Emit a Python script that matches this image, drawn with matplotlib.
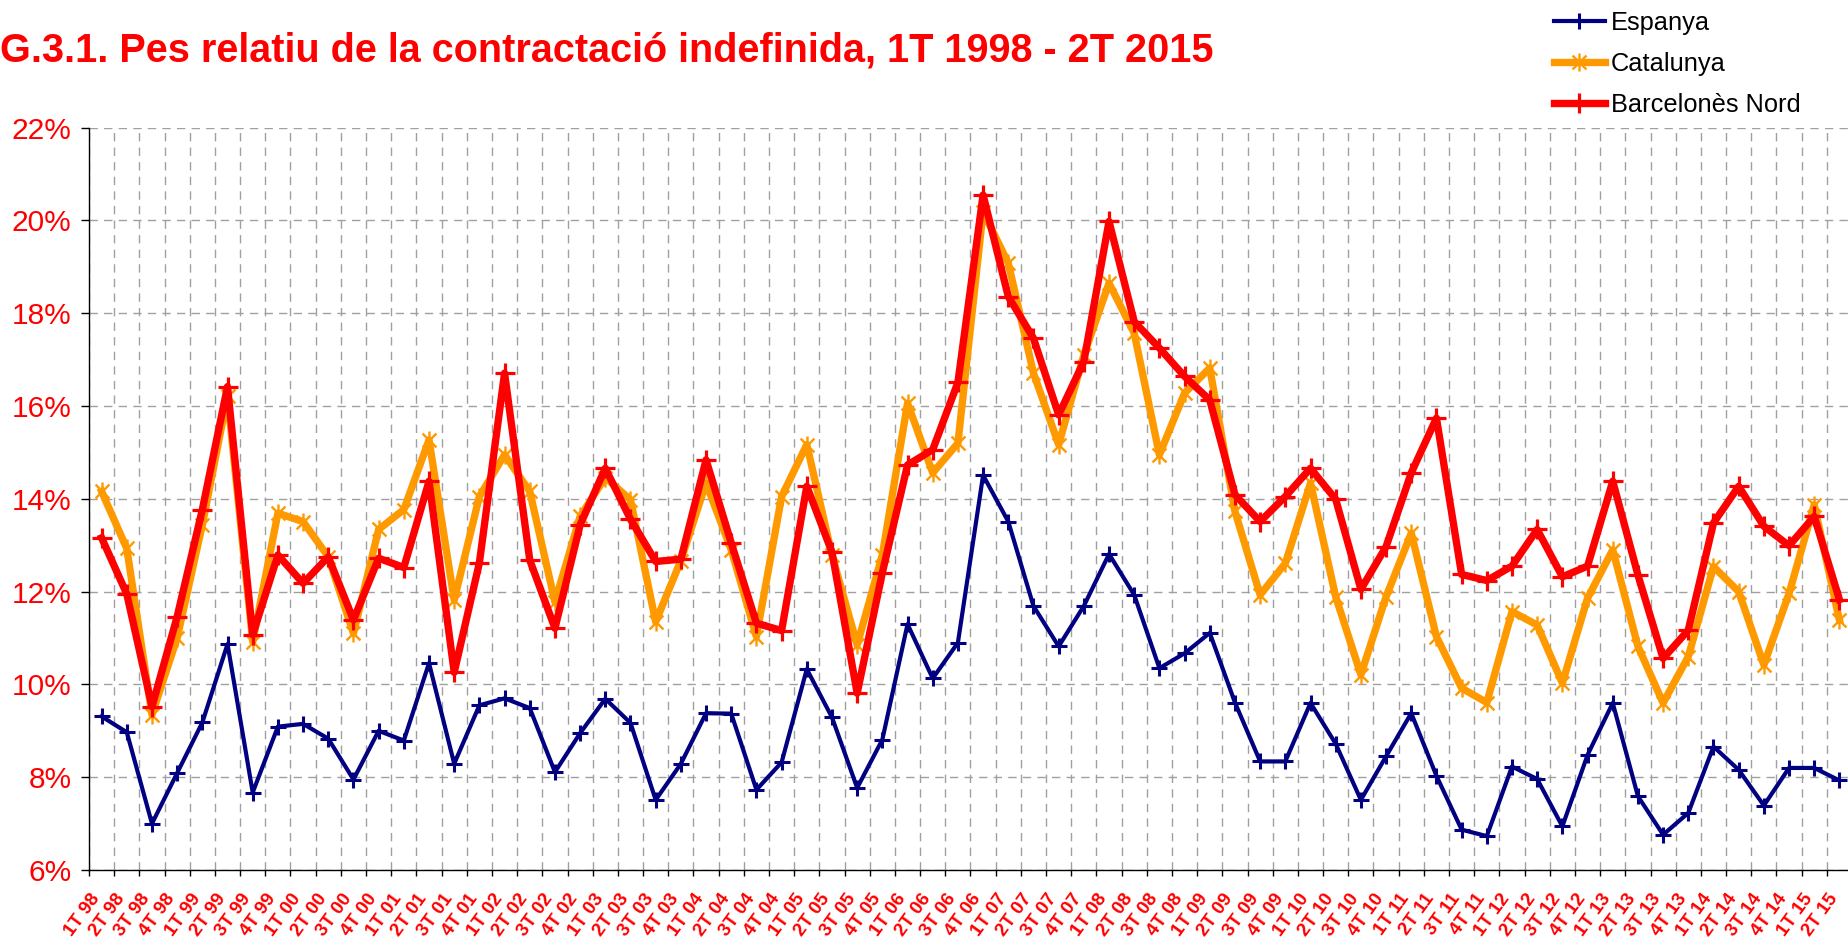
import matplotlib
matplotlib.use("Agg")
import matplotlib.pyplot as plt
from matplotlib.path import Path
from matplotlib.transforms import ScaledTranslation
from matplotlib import font_manager

quarters = ["1T 98", "2T 98", "3T 98", "4T 98", "1T 99", "2T 99", "3T 99", "4T 99",
            "1T 00", "2T 00", "3T 00", "4T 00", "1T 01", "2T 01", "3T 01", "4T 01",
            "1T 02", "2T 02", "3T 02", "4T 02", "1T 03", "2T 03", "3T 03", "4T 03",
            "1T 04", "2T 04", "3T 04", "4T 04", "1T 05", "2T 05", "3T 05", "4T 05",
            "1T 06", "2T 06", "3T 06", "4T 06", "1T 07", "2T 07", "3T 07", "4T 07",
            "1T 08", "2T 08", "3T 08", "4T 08", "1T 09", "2T 09", "3T 09", "4T 09",
            "1T 10", "2T 10", "3T 10", "4T 10", "1T 11", "2T 11", "3T 11", "4T 11",
            "1T 12", "2T 12", "3T 12", "4T 12", "1T 13", "2T 13", "3T 13", "4T 13",
            "1T 14", "2T 14", "3T 14", "4T 14", "1T 15", "2T 15"]

espanya = [9.31, 8.97, 7.00, 8.09, 9.18, 10.87, 7.67, 9.09, 9.15, 8.83,
           7.95, 9.00, 8.79, 10.46, 8.29, 9.55, 9.70, 9.49, 8.11, 8.95,
           9.69, 9.17, 7.51, 8.29, 9.38, 9.37, 7.73, 8.32, 10.33, 9.29,
           7.77, 8.81, 11.30, 10.13, 10.90, 14.51, 13.51, 11.69, 10.82, 11.69,
           12.81, 11.93, 10.35, 10.67, 11.11, 9.61, 8.34, 8.34, 9.60, 8.72,
           7.51, 8.45, 9.38, 8.03, 6.87, 6.73, 8.23, 7.96, 6.94, 8.48,
           9.60, 7.59, 6.76, 7.23, 8.66, 8.16, 7.39, 8.20, 8.20, 7.93]

catalunya = [14.16, 12.93, 9.35, 11.00, 13.44, 16.21, 10.92, 13.69, 13.51, 12.75,
             11.10, 13.34, 13.77, 15.27, 11.82, 14.05, 14.95, 14.16, 11.78, 13.62,
             14.46, 13.98, 11.35, 12.67, 14.34, 12.90, 11.03, 14.05, 15.17, 12.79,
             10.85, 12.79, 16.06, 14.56, 15.20, 20.19, 19.08, 16.71, 15.17, 17.10,
             18.65, 17.57, 14.95, 16.28, 16.82, 13.73, 11.93, 12.61, 14.34, 11.89,
             10.21, 11.89, 13.26, 11.03, 9.92, 9.61, 11.57, 11.28, 10.03, 11.86,
             12.90, 10.82, 9.60, 10.60, 12.54, 12.00, 10.42, 11.96, 13.87, 11.39]

barcelones_nord = [13.16, 11.95, 9.52, 11.46, 13.77, 16.42, 11.07, 12.79, 12.18, 12.75,
                   11.39, 12.72, 12.52, 14.38, 10.26, 12.62, 16.71, 12.68, 11.21, 13.44,
                   14.66, 13.56, 12.65, 12.70, 14.84, 13.05, 11.32, 11.16, 14.27, 12.85,
                   9.81, 12.41, 14.73, 15.06, 16.51, 20.55, 18.36, 17.46, 15.81, 16.96,
                   19.98, 17.82, 17.25, 16.64, 16.13, 14.09, 13.51, 14.05, 14.66, 13.99,
                   12.05, 12.97, 14.56, 15.74, 12.37, 12.24, 12.55, 13.34, 12.32, 12.55,
                   14.38, 12.36, 10.56, 11.17, 13.48, 14.27, 13.41, 12.99, 13.62, 11.83]

series_names = ["Espanya", "Catalunya", "Barcelonès Nord"]
y_ticks = [6, 8, 10, 12, 14, 16, 18, 20, 22]
title = "G.3.1. Pes relatiu de la contractació indefinida, 1T 1998 - 2T 2015"

installed = {f.name for f in font_manager.fontManager.ttflist}
narrow = "Liberation Sans Narrow" if "Liberation Sans Narrow" in installed else "Liberation Sans"
plt.rcParams['font.family'] = ['Liberation Sans', 'DejaVu Sans']

W, H = 1849, 939
fig = plt.figure(figsize=(W / 100, H / 100), dpi=100)
left_px, right_px, top_px, bottom_px = 89.0, 1852.0, 127.7, 870.0
ax = fig.add_axes([left_px / W, 1 - bottom_px / H, (right_px - left_px) / W, (bottom_px - top_px) / H])

x = list(range(len(quarters)))

# asterisk marker: X plus vertical bar
ast = Path([(-1, -1), (1, 1), (-1, 1), (1, -1), (0, -1.3), (0, 1.3)],
           [Path.MOVETO, Path.LINETO, Path.MOVETO, Path.LINETO, Path.MOVETO, Path.LINETO])

ax.plot(x, espanya, color="#000080", lw=3.0, marker="+", ms=12, mew=2.2,
        label=series_names[0], zorder=3)
ax.plot(x, catalunya, color="#FF9900", lw=5.3, marker=ast, ms=13, mew=1.7,
        label=series_names[1], zorder=4)
ax.plot(x, barcelones_nord, color="#FF0000", lw=5.3, marker="+", ms=14, mew=2.3,
        label=series_names[2], zorder=5)

ax.set_xlim(-0.5, len(quarters) - 0.5)
ax.set_ylim(6, 22)

# category boundaries as major ticks (with grid), labels at centers (minor)
ax.set_xticks([i - 0.5 for i in range(len(quarters) + 1)])
ax.set_xticklabels([])
ax.set_xticks(x, minor=True)
ax.set_xticklabels(quarters, minor=True, rotation=54, rotation_mode="anchor",
                   ha="right", va="top", color="#FF0000", fontweight="bold",
                   fontsize=13.5, family=[narrow, 'Liberation Sans'])
ax.tick_params(axis="x", which="major", direction="out", length=4.5, width=1, color="black")
ax.tick_params(axis="x", which="minor", length=0, pad=14.5)
shift = ScaledTranslation(-12 / 100, 0, fig.dpi_scale_trans)
for lbl in ax.get_xticklabels(minor=True):
    lbl.set_transform(lbl.get_transform() + shift)

ax.set_yticks(y_ticks)
ax.set_yticklabels([f"{v}%" for v in y_ticks], color="#FF0000", fontsize=21.5)
ax.tick_params(axis="y", direction="out", length=5.5, width=1, color="black", pad=7)

ax.grid(True, axis="both", which="major", color="#A0A0A0", lw=1.0, linestyle=(0, (6, 4.5)))
ax.set_axisbelow(True)
for s in ["top", "right"]:
    ax.spines[s].set_visible(False)
for s in ["left", "bottom"]:
    ax.spines[s].set_color("black")
    ax.spines[s].set_linewidth(1.0)
    ax.spines[s].set_zorder(6)

fig.text(0.0, 1 - 50 / H, title, color="#FF0000", fontweight="bold", fontsize=28.5,
         family=[narrow, 'Liberation Sans'], ha="left", va="center")

leg = fig.legend(loc="upper left", bbox_to_anchor=(1554 / W, 1 - 11 / H), frameon=False,
                 fontsize=18.3, handlelength=2.0, handletextpad=0.25, labelspacing=0.67,
                 borderpad=0, borderaxespad=0)
for t in leg.get_texts():
    t.set_color("black")

fig.savefig("out.png", dpi=100, facecolor="white")
